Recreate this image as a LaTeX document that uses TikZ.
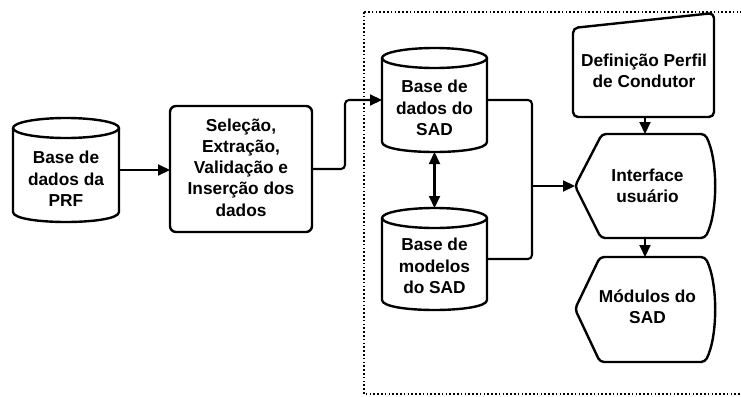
\documentclass[tikz,border=0pt]{standalone}
\usepackage{fontspec}
\setmainfont{Liberation Sans}
\usetikzlibrary{arrows.meta,calc}
\newcommand{\mycyl}[4]{%
  \draw[shapeline] (#1,#2+10) -- (#1,#4-10) .. controls (#1,#4+3.33) and (#3,#4+3.33) .. (#3,#4-10) -- (#3,#2+10);
  \draw[shapeline] ({(#1+#3)/2},#2+10) ellipse [x radius={(#3-#1)/2}, y radius=10];}
\begin{document}
\begin{tikzpicture}[x=1pt,y=-1pt,
  shapeline/.style={line width=2.4pt, line join=round},
  anchorbox/.style={draw=none, inner sep=0pt, outer sep=0pt},
  txt/.style={font=\bfseries\fontsize{17.3}{21.3}\selectfont, align=center, inner sep=0pt},
  conn/.style={line width=2.1pt, rounded corners=4pt, -{Triangle[length=12pt,width=11pt]}},
  dconn/.style={line width=2.1pt, {Triangle[length=12pt,width=11pt]}-{Triangle[length=12pt,width=11pt]}},
  plain/.style={line width=2.1pt, rounded corners=4pt},
  frame/.style={line width=1.7pt, dash pattern=on 1.6pt off 2.2pt}
]
\useasboundingbox (0,0) rectangle (741,396);
\clip (0,0) rectangle (741,396);

% invisible anchor nodes for the shapes
\node[anchorbox, minimum width=106pt, minimum height=104pt] (prf) at (66,170) {};
\node[anchorbox, minimum width=142pt, minimum height=126pt] (box) at (241,169) {};
\node[anchorbox, minimum width=105pt, minimum height=104pt] (sad1) at (434.5,100) {};
\node[anchorbox, minimum width=105pt, minimum height=102pt] (cyl2) at (434.5,259) {};
\node[anchorbox, minimum width=141pt, minimum height=104pt] (def) at (643.5,65) {};
\node[anchorbox, minimum width=140pt, minimum height=104pt] (iface) at (645,186) {};
\node[anchorbox, minimum width=140pt, minimum height=105pt] (mod) at (645,309.5) {};

% dotted frame
\draw[frame] (364,12) rectangle (760,394);

% shapes
\mycyl{13}{118}{119}{222}
\draw[shapeline, rounded corners=6pt] (170,106) rectangle (312,232);
\mycyl{382}{48}{487}{152}
\mycyl{382}{208}{487}{310}
\draw[shapeline, rounded corners=5pt] (573,28) -- (714,13) -- (714,117) -- (573,117) -- cycle;
\draw[shapeline, rounded corners=4pt] (575,186) -- (602,134) -- (705,134)
   .. controls (718,160) and (718,212) .. (705,238) -- (601,238) -- cycle;
\draw[shapeline, rounded corners=4pt] (575,309) -- (600,257) -- (705,257)
   .. controls (718,283) and (718,336) .. (705,362) -- (600,362) -- cycle;

% texts
\node[txt] (prf-t) at (66,179) {Base de\\dados da\\PRF};
\node[txt] (box-t) at (241,167.5) {Seleção,\\Extração,\\Validação e\\Inserção dos\\dados};
\node[txt] (sad1-t) at (434.5,108) {Base de\\dados do\\SAD};
\node[txt] (cyl2-t) at (434.5,266) {Base de\\modelos\\do SAD};
\node[txt] (def-t) at (644,71) {Definição Perfil\\de Condutor};
\node[txt] (iface-t) at (647.5,185.5) {Interface\\usuário};
\node[txt] (mod-t) at (647.5,307) {Módulos do\\SAD};

% connectors
\coordinate (j) at (532,186);
\draw[conn] (prf.east) -- (prf.east -| box.west);
\draw[conn] (box.east) -- ($(box.east)+(33,0)$) |- (sad1.west);
\draw[plain] (sad1.east) -| (j);
\draw[plain] (cyl2.east) -| (j);
\draw[conn] (j) -- (iface.west);
\draw[dconn] (sad1.south) -- (cyl2.north);
\draw[conn] (iface.north |- def.south) -- (iface.north);
\draw[conn] (iface.south) -- (mod.north);
\end{tikzpicture}
\end{document}
